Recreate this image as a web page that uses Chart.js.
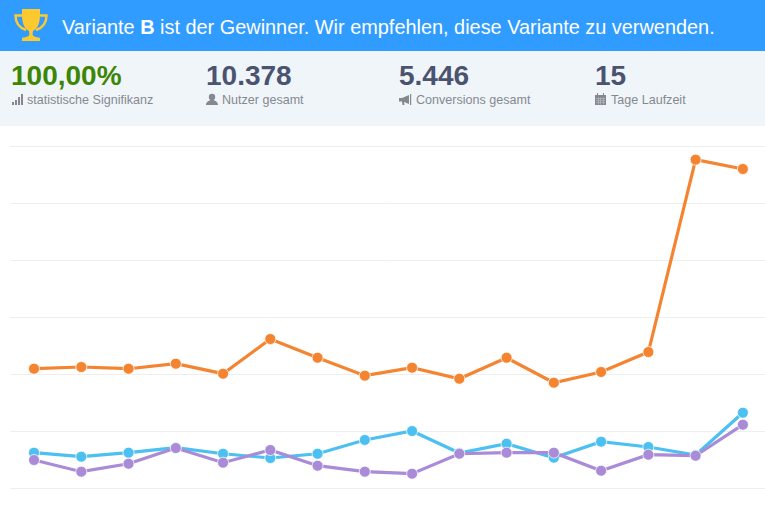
<!DOCTYPE html>
<html lang="de">
<head>
    <meta charset="UTF-8">
    <title>Variante B</title>
    <script src="https://cdn.jsdelivr.net/npm/chart.js"></script>
    <style>
        html, body { margin: 0; padding: 0; width: 765px; height: 527px; overflow: hidden; background: #fff; font-family: "Liberation Sans", Arial, sans-serif; }
        #banner { position: absolute; left: 0; top: 0; width: 765px; height: 51px; background: #309cff; }
        #banner svg { position: absolute; left: 14px; top: 9px; }
        #banner .msg { position: absolute; left: 62px; top: 15px; font-size: 19.9px; line-height: 24px; color: #fff; white-space: nowrap; }
        #stats { position: absolute; left: 0; top: 51px; width: 765px; height: 75px; background: #f0f5fa; }
        .num { position: absolute; top: 10px; font-size: 28px; line-height: 30px; font-weight: bold; color: #4a5370; white-space: nowrap; }
        .lbl { position: absolute; top: 41px; font-size: 12.55px; line-height: 16px; color: #85898f; white-space: nowrap; }
        .ico { position: absolute; top: 42px; }
        #chartBox { position: absolute; left: 0; top: 126px; }
    </style>
</head>
<body>
    <div id="banner">
        <svg width="34" height="33" viewBox="0 0 34 33">
            <path d="M8 6.500 H1.500 C1.500 13 4.500 18.500 12 21 M26 6.500 H32.500 C32.500 13 29.500 18.500 22 21" fill="none" stroke="#fdc92f" stroke-width="2.400"/>
            <path d="M8 0 H26 V6 C26 15 23 20 19 22 C18.500 25 18.500 26 19.500 27 C21 28 25 28.500 26 29 V32 H8 V29 C9 28.500 13 28 14.500 27 C15.500 26 15.500 25 15 22 C11 20 8 15 8 6 Z" fill="#fdc92f"/>
        </svg>
        <div class="msg">Variante <b>B</b> ist der Gewinner. Wir empfehlen, diese Variante zu verwenden.</div>
    </div>
    <div id="stats">
        <div class="num" style="left:11px;color:#3d8504">100,00%</div>
        <svg class="ico" style="left:12px" width="12" height="14" viewBox="0 0 12 14" fill="#85898f">
            <rect x="0" y="9" width="2" height="3"/><rect x="3" y="7" width="2" height="5"/><rect x="6" y="4" width="2" height="8"/><rect x="9" y="1" width="2" height="11"/>
        </svg>
        <div class="lbl" style="left:27px">statistische Signifikanz</div>

        <div class="num" style="left:206px">10.378</div>
        <svg class="ico" style="left:206px" width="12" height="14" viewBox="0 0 12 14" fill="#85898f">
            <circle cx="6" cy="4" r="3.2"/><path d="M0 12 C0 8.500 3 8 4.500 7 H7.500 C9 8 12 8.500 12 12 Z"/>
        </svg>
        <div class="lbl" style="left:222px">Nutzer gesamt</div>

        <div class="num" style="left:399px">5.446</div>
        <svg class="ico" style="left:399px" width="13" height="14" viewBox="0 0 13 14" fill="#85898f">
            <path d="M0 5 H3 L10 2 V11 L5 9 L5.500 12 H3.500 L3 8.500 H0 Z"/><rect x="11" y="1" width="1.200" height="11"/>
        </svg>
        <div class="lbl" style="left:416px">Conversions gesamt</div>

        <div class="num" style="left:595px">15</div>
        <svg class="ico" style="left:595px" width="12" height="14" viewBox="0 0 12 14" fill="#85898f">
            <path d="M0 2 H2 V0 H3 V2 H8 V0 H9 V2 H11 V12 H0 Z"/>
            <path d="M1 5 h9 v0.500 h-9 z M1 7 h9 v0.500 h-9 z M1 9 h9 v0.500 h-9 z M3 4.500 h0.500 v7 h-0.500 z M5.500 4.500 h0.500 v7 h-0.500 z M8 4.500 h0.500 v7 h-0.500 z" fill="#c9ccd1"/>
        </svg>
        <div class="lbl" style="left:611px">Tage Laufzeit</div>
    </div>
    <div id="chartBox"><canvas id="conversionChart" width="773" height="401"></canvas></div>

    <script>
        // Werte
        const days = ['1', '2', '3', '4', '5', '6', '7', '8', '9', '10', '11', '12', '13', '14', '15', '16'];
        const orangeValues = [209.6, 212.6, 209.6, 218.4, 200.9, 261.7, 228.9, 197.4, 211.4, 192.1, 228.9, 185.1, 203.9, 238.9, 576, 559.7];
        const blueValues = [62.4, 55.4, 62.4, 71.2, 60.6, 53.1, 60.6, 84.7, 100.4, 61.9, 78.2, 53.6, 81.7, 72.4, 58.4, 132.5];
        const purpleValues = [49.6, 29.1, 43.1, 70.6, 44.9, 67.1, 39.6, 29.1, 25.6, 60.6, 62.4, 62.4, 30.8, 58.9, 57.1, 111.5];

        function lineSet(values, color) {
            return {
                data: values,
                borderColor: color,
                backgroundColor: color,
                borderWidth: 3.2,
                tension: 0,
                fill: false,
                pointRadius: 5.5,
                pointBorderWidth: 1,
                pointBorderColor: 'rgba(255, 255, 255, 0.75)',
                pointBackgroundColor: color
            };
        }

        new Chart(document.getElementById('conversionChart').getContext('2d'), {
            type: 'line',
            data: {
                labels: days,
                // erster Datensatz liegt oben
                datasets: [
                    lineSet(purpleValues, '#a98bd8'),
                    lineSet(blueValues, '#4cc0f0'),
                    lineSet(orangeValues, '#f58430')
                ]
            },
            options: {
                responsive: false,
                animation: false,
                layout: { padding: { left: 10.4, right: 3.3, top: 20, bottom: 38.7 } },
                plugins: { legend: { display: false }, tooltip: { enabled: false } },
                scales: {
                    x: { display: false, offset: true },
                    y: {
                        min: 0,
                        max: 600,
                        ticks: { display: false, stepSize: 100 },
                        border: { display: false },
                        grid: { color: '#eeeeee', lineWidth: 1, drawTicks: false }
                    }
                }
            }
        });
    </script>
</body>
</html>
